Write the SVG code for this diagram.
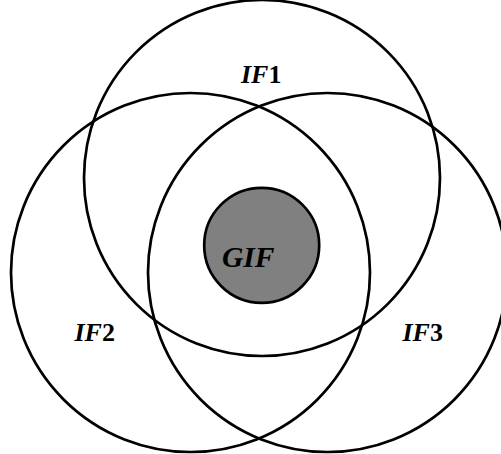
<svg xmlns="http://www.w3.org/2000/svg" width="501" height="454" viewBox="0 0 501 454">
<style>
.c{fill:none;stroke:#000;stroke-width:2.7}
.t{font-family:"Liberation Serif","Times New Roman",serif;font-weight:bold;font-style:italic;fill:#000}
.n{font-style:normal}
</style>
<rect width="501" height="454" fill="#fff"/>
<g id="if1"><circle class="c" cx="262" cy="178" r="178"/><text class="t" x="241" y="82.5" font-size="26">IF<tspan class="n">1</tspan></text></g>
<g id="if2"><circle class="c" cx="190.5" cy="272.5" r="179.5"/><text class="t" x="74.5" y="340.5" font-size="26">IF<tspan class="n">2</tspan></text></g>
<g id="if3"><circle class="c" cx="327.5" cy="272.5" r="179.5"/><text class="t" x="402.5" y="340.5" font-size="26">IF<tspan class="n">3</tspan></text></g>
<g id="gif"><circle cx="261.7" cy="245.3" r="57.5" fill="#808080" stroke="#000" stroke-width="2.7"/><text class="t" x="222" y="266.5" font-size="29.5">GIF</text></g>
</svg>
